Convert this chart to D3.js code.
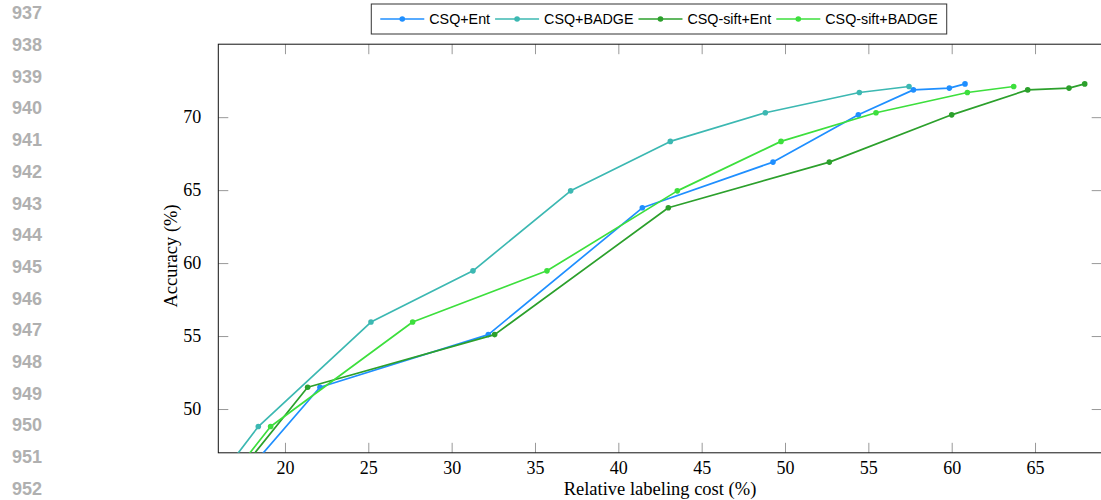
<!DOCTYPE html>
<html>
<head>
<meta charset="utf-8">
<script src="https://cdn.jsdelivr.net/npm/d3@7"></script>
<style>
  html, body { margin: 0; padding: 0; background: #fff; }
  svg { display: block; }
  .tick text { font-family: 'Liberation Serif', 'DejaVu Serif', serif; font-size: 18px; fill: #000; }
  .tick line { stroke: #999; }
  .axis-label { font-family: 'Liberation Serif', 'DejaVu Serif', serif; font-size: 18.5px; fill: #000; }
  .legend text { font-family: 'Liberation Sans', Arial, sans-serif; font-size: 14.3px; fill: #000; }
  .line-no { font-family: 'Liberation Sans', Arial, sans-serif; font-weight: bold; font-size: 18px; fill: #b0b0b0; }
</style>
</head>
<body>
<div id="chart"></div>
<script>
// values; the first point of each run sits below the y range and is clipped
const seriesNames = ['CSQ+Ent', 'CSQ+BADGE', 'CSQ-sift+Ent', 'CSQ-sift+BADGE']
const seriesColors = ['#1f8fff', '#3cb8b2', '#2ca02c', '#3ddf3d']

const accEnt = [45.0, 51.49, 55.1, 63.79, 66.92, 70.16, 71.87, 71.99, 72.28]
const accBadge = [45.0, 48.8, 55.96, 59.47, 64.95, 68.34, 70.3, 71.69, 72.1]

const costCsqEnt = [17.19, 22.1, 32.2, 41.44, 49.28, 54.4, 57.7, 59.86, 60.8]
const costCsqBadge = [15.87, 18.4, 25.16, 31.28, 37.14, 43.12, 48.82, 54.46, 57.44]
const costSiftEnt = [16.79, 21.36, 32.58, 43.0, 52.66, 60.0, 64.56, 67.04, 67.98]
const costSiftBadge = [16.52, 19.14, 27.66, 35.72, 43.54, 49.76, 55.46, 60.94, 63.72]

const xTicks = [20, 25, 30, 35, 40, 45, 50, 55, 60, 65]
const yTicks = [50, 55, 60, 65, 70]
const lineNumbers = [937, 938, 939, 940, 941, 942, 943, 944, 945, 946, 947, 948, 949, 950, 951, 952]

const series = [
  { name: seriesNames[0], color: seriesColors[0], xs: costCsqEnt, ys: accEnt },
  { name: seriesNames[1], color: seriesColors[1], xs: costCsqBadge, ys: accBadge },
  { name: seriesNames[2], color: seriesColors[2], xs: costSiftEnt, ys: accEnt },
  { name: seriesNames[3], color: seriesColors[3], xs: costSiftBadge, ys: accBadge },
].map((s) => ({ ...s, points: s.xs.map((x, i) => ({ x, y: s.ys[i] })) }))

const width = 1101
const height = 500
const plot = { left: 218.3, right: 1101.7, top: 44.2, bottom: 452.8 }

const svg = d3.select('#chart').append('svg').attr('width', width).attr('height', height)

// line numbers down the page margin
svg.append('g')
  .selectAll('text')
  .data(lineNumbers)
  .join('text')
  .attr('class', 'line-no')
  .attr('x', 42)
  .attr('y', (d, i) => 13 + i * 31.7)
  .attr('dy', '0.35em')
  .attr('text-anchor', 'end')
  .text((d) => d)

const x = d3.scaleLinear().domain([16, 69]).range([plot.left, plot.right])
const y = d3.scaleLinear().domain([47, 75]).range([plot.bottom, plot.top])

svg.append('defs').append('clipPath').attr('id', 'plot-clip')
  .append('rect')
  .attr('x', plot.left).attr('y', plot.top)
  .attr('width', plot.right - plot.left).attr('height', plot.bottom - plot.top)

const axisG = svg.append('g')
axisG.append('g')
  .attr('transform', `translate(0,${plot.bottom})`)
  .call(d3.axisBottom(x).tickValues(xTicks).tickSize(-10).tickPadding(8))
axisG.append('g')
  .attr('transform', `translate(0,${plot.top})`)
  .call(d3.axisTop(x).tickValues(xTicks).tickSize(-10).tickFormat(''))
axisG.append('g')
  .attr('transform', `translate(${plot.left},0)`)
  .call(d3.axisLeft(y).tickValues(yTicks).tickSize(-10).tickPadding(17))
axisG.append('g')
  .attr('transform', `translate(${plot.right},0)`)
  .call(d3.axisRight(y).tickValues(yTicks).tickSize(-10).tickFormat(''))
axisG.selectAll('.domain').remove()

svg.append('rect')
  .attr('x', plot.left).attr('y', plot.top)
  .attr('width', plot.right - plot.left).attr('height', plot.bottom - plot.top)
  .attr('fill', 'none').attr('stroke', '#111').attr('stroke-width', 1)

const line = d3.line().x((d) => x(d.x)).y((d) => y(d.y))

const marks = svg.append('g').attr('clip-path', 'url(#plot-clip)')
series.forEach((s) => {
  const g = marks.append('g')
  g.append('path')
    .datum(s.points)
    .attr('d', line)
    .attr('fill', 'none')
    .attr('stroke', s.color)
    .attr('stroke-width', 1.7)
    .attr('stroke-linejoin', 'round')
  g.selectAll('circle')
    .data(s.points)
    .join('circle')
    .attr('cx', (d) => x(d.x))
    .attr('cy', (d) => y(d.y))
    .attr('r', 2.8)
    .attr('fill', s.color)
})

svg.append('text')
  .attr('class', 'axis-label')
  .attr('text-anchor', 'middle')
  .attr('x', (plot.left + plot.right) / 2)
  .attr('y', 495)
  .text('Relative labeling cost (%)')

svg.append('text')
  .attr('class', 'axis-label')
  .attr('text-anchor', 'middle')
  .attr('transform', 'translate(177,256) rotate(-90)')
  .text('Accuracy (%)')

// legend across the top
const legend = svg.append('g').attr('class', 'legend')
const legendBox = legend.append('rect')
  .attr('fill', '#fff').attr('stroke', '#333').attr('stroke-width', 1)
const sampleLen = 44
const legendY = 19
let cursor = 0
const items = []
series.forEach((s, i) => {
  const item = legend.append('g')
  item.append('line')
    .attr('x1', cursor).attr('x2', cursor + sampleLen)
    .attr('y1', legendY).attr('y2', legendY)
    .attr('stroke', s.color).attr('stroke-width', 1.7)
  item.append('circle')
    .attr('cx', cursor + sampleLen / 2).attr('cy', legendY)
    .attr('r', 2.8).attr('fill', s.color)
  const t = item.append('text')
    .attr('x', cursor + sampleLen + 5)
    .attr('y', legendY)
    .attr('dy', '0.35em')
    .text(s.name)
  cursor += sampleLen + 5 + t.node().getComputedTextLength() + (i < series.length - 1 ? 5 : 0)
  items.push(item)
})
const legendLeft = 659 - (cursor + 18) / 2
legendBox
  .attr('x', legendLeft).attr('y', 4)
  .attr('width', cursor + 18).attr('height', 30)
items.forEach((item) => item.attr('transform', `translate(${legendLeft + 9},0)`))
</script>
</body>
</html>
